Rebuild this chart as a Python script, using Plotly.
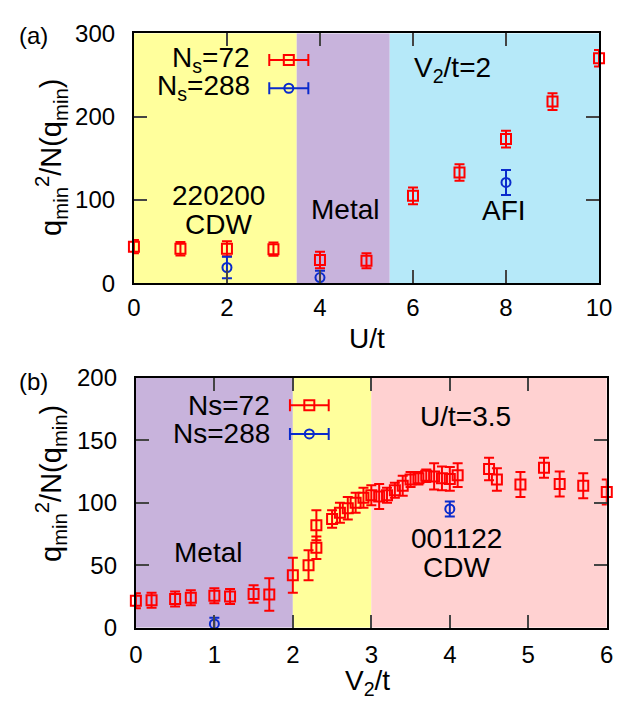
import plotly.graph_objects as go

# ---------------- data: panel (a), V2/t = 2 ----------------
U_72 = [0, 1, 2, 3, 4, 5, 6, 7, 8, 9, 10]
Q_72 = [44, 41.5, 41.5, 41, 28, 27, 105, 133, 173, 218, 270]
E_72 = [8, 8, 9, 8, 10, 9, 10, 10, 10, 10, 10]

U_288 = [2, 4, 8]
Q_288 = [19, 7, 121]
E_288 = [13, 8, 15]

# ---------------- data: panel (b), U/t = 3.5 ----------------
V_72 = [0, 0.2, 0.5, 0.7, 1.0, 1.2, 1.5, 1.7, 2.0, 2.2, 2.3, 2.3, 2.5, 2.6,
        2.7, 2.8, 2.9, 3.0, 3.1, 3.2, 3.3, 3.4, 3.5, 3.6, 3.7, 3.8, 3.9, 4.0,
        4.1, 4.5, 4.6, 4.9, 5.2, 5.4, 5.7, 6.0]
QV_72 = [21.5, 22, 23, 24, 25.5, 25, 27, 26.5, 42, 50, 64, 82, 87, 92,
         95.5, 100, 104, 106, 105, 106, 110, 113.5, 118.5, 119.5, 121.5, 121, 119.5, 119,
         122, 127, 118.5, 114.5, 128, 115, 113.5, 108.5]
EV_72 = [6, 6, 6, 6, 6, 6, 7, 13, 14, 12, 9, 12, 7, 8,
         9, 8, 8, 8, 10, 6, 6, 8, 6, 5, 5, 10.5, 9.5, 9.5,
         9.5, 9, 9, 10, 8, 10, 10, 10]

V_288 = [1, 4]
QV_288 = [3, 95]
EV_288 = [5, 6]

# phase regions: (x0, x1, colour key)
REGIONS_A = [(0, 3.5, "yellow"), (3.5, 5.5, "purple"), (5.5, 10, "cyan")]
REGIONS_B = [(0, 2, "purple"), (2, 3, "yellow"), (3, 6, "pink")]

TICKS_A_X = [0, 2, 4, 6, 8, 10]
TICKS_A_Y = [0, 100, 200, 300]
TICKS_B_X = [0, 1, 2, 3, 4, 5, 6]
TICKS_B_Y = [0, 50, 100, 150, 200]

# ---------------- styles ----------------
W, H = 644, 710
COL = {"yellow": "#FFFF9C", "purple": "#C8B3DC", "cyan": "#B6E9F9", "pink": "#FFD1D1"}
RED = "#FF0000"
BLUE = "#0A2BCC"
FONT = "Liberation Sans, Arial, sans-serif"
FS_TICK = 24
FS_TEXT = 28


def px(x):
    return x / W


def py(y):
    return 1 - y / H


fig = go.Figure()


def add_series(x, y, e, color, symbol, size, xa, ya, ex=None):
    fig.add_trace(go.Scatter(
        x=x, y=y, mode="markers", xaxis=xa, yaxis=ya, showlegend=False,
        cliponaxis=False,
        marker=dict(symbol=symbol, size=size, color=color, line=dict(color=color, width=2)),
        error_y=None if e is None else dict(type="data", array=e, visible=True, color=color,
                                            thickness=2, width=5),
        error_x=None if ex is None else dict(type="data", array=ex, visible=True, color=color,
                                             thickness=2, width=6),
    ))


# panel (a)
add_series(U_72, Q_72, E_72, RED, "square-open", 10, "x", "y")
add_series(U_288, Q_288, E_288, BLUE, "circle-open", 9, "x", "y")
# panel (b)
add_series(V_72, QV_72, EV_72, RED, "square-open", 10, "x2", "y2")
add_series(V_288, QV_288, EV_288, BLUE, "circle-open", 9, "x2", "y2")

# legend samples (positions in data units of each panel)
add_series([3.33], [268], None, RED, "square-open", 10, "x", "y", ex=[0.42])
add_series([3.33], [234], None, BLUE, "circle-open", 9, "x", "y", ex=[0.42])
add_series([2.21], [178], None, RED, "square-open", 10, "x2", "y2", ex=[0.247])
add_series([2.21], [155], None, BLUE, "circle-open", 9, "x2", "y2", ex=[0.247])

shapes = []
for x0, x1, c in REGIONS_A:
    shapes.append(dict(type="rect", xref="x", yref="y", x0=x0, x1=x1, y0=0, y1=300,
                       fillcolor=COL[c], line=dict(width=0), layer="below"))
for x0, x1, c in REGIONS_B:
    shapes.append(dict(type="rect", xref="x2", yref="y2", x0=x0, x1=x1, y0=0, y1=200,
                       fillcolor=COL[c], line=dict(width=0), layer="below"))

axis_common = dict(showgrid=False, zeroline=False, ticks="inside", ticklen=13, tickwidth=1.5,
                   tickcolor="#444", showline=True, linecolor="black", linewidth=2,
                   mirror="allticks", tickfont=dict(family=FONT, size=FS_TICK, color="black"))

fig.update_layout(
    width=W, height=H, margin=dict(l=0, r=0, t=0, b=0),
    paper_bgcolor="white", plot_bgcolor="white",
    font=dict(family=FONT, size=FS_TICK, color="black"),
    shapes=shapes,
    xaxis=dict(domain=[px(131), px(611)], range=[0, 10], tickvals=TICKS_A_X, anchor="y",
               ticklabelstandoff=2, **axis_common),
    yaxis=dict(domain=[py(280), py(20)], range=[0, 300], tickvals=TICKS_A_Y, anchor="x",
               ticklabelstandoff=12, **axis_common),
    xaxis2=dict(domain=[px(133), px(619)], range=[0, 6], tickvals=TICKS_B_X, anchor="y2",
                ticklabelstandoff=4, **axis_common),
    yaxis2=dict(domain=[py(638), py(378)], range=[0, 200], tickvals=TICKS_B_Y, anchor="x2",
                ticklabelstandoff=12, **axis_common),
)


def ann(text, x, y, xanchor="center", angle=0, size=FS_TEXT):
    fig.add_annotation(text=text, xref="paper", yref="paper", x=px(x), y=py(y),
                       xanchor=xanchor, yanchor="middle", showarrow=False, textangle=angle,
                       font=dict(family=FONT, size=size, color="black"))


YTITLE = "q<sub>min</sub><sup>2</sup>/N(q<sub>min</sub>)"
# panel (a) texts
ann("(a)", 27, 22, size=FS_TICK)
ann(YTITLE, 46, 149, angle=-90, size=29)
ann("U/t", 372, 337)
ann("N<sub>s</sub>=72", 253, 47, xanchor="right")
ann("N<sub>s</sub>=288", 253, 76, xanchor="right")
ann("220200", 218, 189)
ann("CDW", 218, 219)
ann("Metal", 349, 203)
ann("V<sub>2</sub>/t=2", 460, 58)
ann("AFI", 513, 204)
# panel (b) texts
ann("(b)", 27, 382, size=FS_TICK)
ann(YTITLE, 46, 488, angle=-90, size=29)
ann("V<sub>2</sub>/t", 372, 695)
ann("Ns=72", 273, 407, xanchor="right")
ann("Ns=288", 273, 436, xanchor="right")
ann("Metal", 207, 560)
ann("U/t=3.5", 473, 418)
ann("001122", 464, 545)
ann("CDW", 464, 575)

fig.write_html("out.html")
